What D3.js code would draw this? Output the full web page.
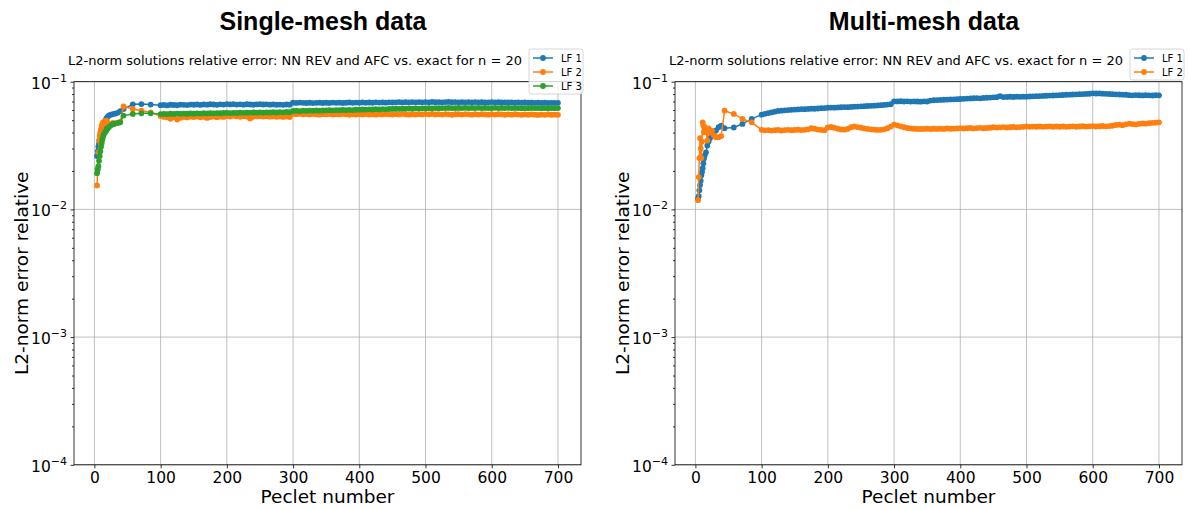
<!DOCTYPE html>
<html lang="en">
<head>
<meta charset="UTF-8">
<title>L2-norm error vs Peclet</title>
<script src="https://cdn.jsdelivr.net/npm/d3@7"></script>
<style>
  body { margin: 0; background: #fff; }
  text { font-family: "DejaVu Sans", sans-serif; fill: #000; }
</style>
</head>
<body>
<svg width="1190" height="510"></svg>
<script>

    // Peclet numbers (same for every series)
    var peclet = [4,5,6,7,8,9,10,11,12,13,14,16,18,20,22,25,28,31,35,39,44,58,71,85,
        100,105,110,115,120,125,130,135,140,145,
        150,155,160,165,170,175,180,185,190,195,
        200,205,210,215,220,225,230,235,240,245,
        250,255,260,265,270,275,280,285,290,295,
        300,305,310,315,320,325,330,335,340,345,
        350,355,360,365,370,375,380,385,390,395,
        400,405,410,415,420,425,430,435,440,445,
        450,455,460,465,470,475,480,485,490,495,
        500,505,510,515,520,525,530,535,540,545,
        550,555,560,565,570,575,580,585,590,595,
        600,605,610,615,620,625,630,635,640,645,
        650,655,660,665,670,675,680,685,690,695,
        700];

    // single-mesh data
    var singleLF1 = [0.0262,0.0285,0.0310,0.0326,0.0345,0.0362,0.0380,0.0398,0.0420,0.0440,0.0462,0.0492,0.0515,0.0530,0.0545,0.0552,0.0558,0.0562,0.0570,0.0588,0.0610,0.0665,0.0668,0.0662,
        0.0655,0.0658,0.0652,0.0660,0.0657,0.0654,0.0661,0.0659,0.0656,0.0662,
        0.0660,0.0663,0.0658,0.0664,0.0661,0.0666,0.0663,0.0659,0.0665,0.0662,
        0.0668,0.0664,0.0667,0.0662,0.0665,0.0661,0.0666,0.0663,0.0660,0.0664,
        0.0667,0.0663,0.0665,0.0661,0.0664,0.0660,0.0662,0.0659,0.0663,0.0661,
        0.0685,0.0682,0.0686,0.0683,0.0681,0.0684,0.0680,0.0683,0.0685,0.0681,
        0.0684,0.0682,0.0686,0.0683,0.0685,0.0681,0.0684,0.0687,0.0683,0.0686,
        0.0684,0.0688,0.0685,0.0687,0.0684,0.0689,0.0686,0.0688,0.0685,0.0690,
        0.0687,0.0689,0.0692,0.0688,0.0691,0.0689,0.0693,0.0690,0.0692,0.0689,
        0.0693,0.0690,0.0694,0.0691,0.0693,0.0690,0.0692,0.0694,0.0691,0.0693,
        0.0690,0.0692,0.0689,0.0693,0.0690,0.0692,0.0689,0.0691,0.0688,0.0690,
        0.0692,0.0689,0.0691,0.0688,0.0690,0.0687,0.0689,0.0686,0.0688,0.0685,
        0.0687,0.0684,0.0686,0.0683,0.0685,0.0682,0.0684,0.0681,0.0683,0.0682,
        0.0683];
    var singleLF2 = [0.0154,0.0208,0.0280,0.0346,0.0379,0.0402,0.0425,0.0450,0.0467,0.0481,0.0470,0.0488,0.0496,0.0478,0.0470,0.0462,0.0475,0.0470,0.0478,0.0485,0.0640,0.0611,0.0593,0.0576,
        0.0538,0.0530,0.0526,0.0512,0.0528,0.0505,0.0522,0.0530,0.0525,0.0532,
        0.0528,0.0534,0.0526,0.0531,0.0520,0.0529,0.0535,0.0527,0.0532,0.0530,
        0.0538,0.0534,0.0540,0.0536,0.0531,0.0537,0.0533,0.0516,0.0530,0.0535,
        0.0538,0.0534,0.0537,0.0532,0.0536,0.0531,0.0535,0.0530,0.0533,0.0529,
        0.0560,0.0557,0.0561,0.0555,0.0558,0.0554,0.0559,0.0556,0.0552,0.0557,
        0.0555,0.0558,0.0553,0.0557,0.0554,0.0559,0.0555,0.0551,0.0556,0.0553,
        0.0557,0.0554,0.0558,0.0553,0.0556,0.0552,0.0557,0.0554,0.0558,0.0555,
        0.0553,0.0557,0.0554,0.0559,0.0555,0.0552,0.0556,0.0553,0.0557,0.0554,
        0.0558,0.0555,0.0559,0.0554,0.0557,0.0553,0.0558,0.0555,0.0551,0.0556,
        0.0557,0.0553,0.0558,0.0555,0.0552,0.0556,0.0553,0.0557,0.0554,0.0552,
        0.0556,0.0553,0.0557,0.0554,0.0551,0.0555,0.0552,0.0556,0.0553,0.0550,
        0.0554,0.0551,0.0555,0.0552,0.0549,0.0553,0.0550,0.0554,0.0551,0.0552,
        0.0550];
    var singleLF3 = [0.0192,0.0205,0.0218,0.0240,0.0262,0.0285,0.0310,0.0330,0.0352,0.0370,0.0385,0.0400,0.0415,0.0430,0.0442,0.0455,0.0465,0.0470,0.0474,0.0481,0.0543,0.0559,0.0565,0.0565,
        0.0558,0.0560,0.0557,0.0561,0.0559,0.0562,0.0560,0.0563,0.0561,0.0564,
        0.0562,0.0565,0.0563,0.0566,0.0564,0.0567,0.0565,0.0568,0.0566,0.0569,
        0.0570,0.0568,0.0571,0.0569,0.0572,0.0570,0.0573,0.0571,0.0574,0.0572,
        0.0575,0.0573,0.0576,0.0574,0.0577,0.0575,0.0578,0.0576,0.0579,0.0577,
        0.0590,0.0592,0.0589,0.0593,0.0591,0.0594,0.0592,0.0595,0.0593,0.0596,
        0.0596,0.0598,0.0597,0.0600,0.0598,0.0601,0.0599,0.0602,0.0600,0.0603,
        0.0604,0.0606,0.0605,0.0608,0.0606,0.0609,0.0607,0.0610,0.0608,0.0611,
        0.0612,0.0614,0.0613,0.0616,0.0614,0.0617,0.0615,0.0618,0.0616,0.0619,
        0.0618,0.0620,0.0619,0.0621,0.0620,0.0622,0.0621,0.0623,0.0622,0.0621,
        0.0623,0.0621,0.0624,0.0622,0.0623,0.0621,0.0624,0.0622,0.0623,0.0621,
        0.0622,0.0624,0.0621,0.0623,0.0622,0.0624,0.0621,0.0623,0.0622,0.0620,
        0.0622,0.0620,0.0623,0.0621,0.0622,0.0620,0.0621,0.0619,0.0621,0.0620,
        0.0621];

    // multi-mesh data
    var multiLF1 = [0.0122,0.0127,0.0141,0.0155,0.0168,0.0185,0.0196,0.0210,0.0230,0.0250,0.0264,0.0280,0.0316,0.0340,0.0360,0.0379,0.0402,0.0415,0.0440,0.0452,0.0432,0.0438,0.0467,0.0511,
        0.0552,0.0560,0.0568,0.0575,0.0582,0.0590,0.0593,0.0597,0.0600,0.0602,
        0.0605,0.0607,0.0610,0.0609,0.0612,0.0615,0.0614,0.0617,0.0620,0.0622,
        0.0625,0.0627,0.0626,0.0629,0.0631,0.0633,0.0632,0.0635,0.0637,0.0639,
        0.0641,0.0643,0.0645,0.0647,0.0649,0.0652,0.0655,0.0658,0.0662,0.0666,
        0.0702,0.0701,0.0703,0.0700,0.0702,0.0699,0.0701,0.0700,0.0698,0.0702,
        0.0700,0.0712,0.0716,0.0718,0.0720,0.0722,0.0724,0.0726,0.0728,0.0730,
        0.0732,0.0735,0.0738,0.0740,0.0742,0.0744,0.0741,0.0746,0.0749,0.0751,
        0.0754,0.0756,0.0772,0.0758,0.0760,0.0762,0.0759,0.0763,0.0761,0.0764,
        0.0764,0.0766,0.0768,0.0770,0.0772,0.0774,0.0776,0.0778,0.0780,0.0782,
        0.0785,0.0787,0.0790,0.0792,0.0794,0.0796,0.0798,0.0800,0.0802,0.0805,
        0.0811,0.0808,0.0810,0.0806,0.0804,0.0801,0.0799,0.0796,0.0794,0.0792,
        0.0790,0.0784,0.0782,0.0786,0.0783,0.0781,0.0784,0.0782,0.0780,0.0783,
        0.0782];
    var multiLF2 = [0.0118,0.0179,0.0253,0.0361,0.0300,0.0253,0.0340,0.0481,0.0453,0.0402,0.0440,0.0414,0.0346,0.0430,0.0400,0.0414,0.0380,0.0368,0.0368,0.0375,0.0593,0.0559,0.0511,0.0481,
        0.0420,0.0416,0.0418,0.0414,0.0417,0.0419,0.0415,0.0418,0.0420,0.0417,
        0.0419,0.0421,0.0418,0.0420,0.0424,0.0432,0.0428,0.0422,0.0419,0.0417,
        0.0438,0.0442,0.0436,0.0428,0.0423,0.0421,0.0427,0.0440,0.0446,0.0441,
        0.0436,0.0431,0.0427,0.0424,0.0421,0.0419,0.0420,0.0424,0.0432,0.0445,
        0.0462,0.0455,0.0447,0.0440,0.0434,0.0430,0.0428,0.0427,0.0426,0.0427,
        0.0428,0.0426,0.0428,0.0427,0.0429,0.0427,0.0430,0.0428,0.0429,0.0431,
        0.0433,0.0430,0.0432,0.0434,0.0431,0.0433,0.0435,0.0432,0.0434,0.0436,
        0.0440,0.0437,0.0439,0.0441,0.0438,0.0440,0.0442,0.0439,0.0441,0.0443,
        0.0446,0.0443,0.0445,0.0444,0.0446,0.0443,0.0445,0.0447,0.0444,0.0446,
        0.0444,0.0446,0.0443,0.0445,0.0447,0.0444,0.0446,0.0448,0.0445,0.0447,
        0.0449,0.0446,0.0448,0.0450,0.0447,0.0449,0.0452,0.0458,0.0461,0.0457,
        0.0464,0.0469,0.0466,0.0463,0.0468,0.0471,0.0469,0.0473,0.0476,0.0478,
        0.0481];

    var xTickValues = [0,100,200,300,400,500,600,700];
    var yTickValues = [1e-4,1e-3,1e-2,1e-1];
    var yTickExp = ["\u22124","\u22123","\u22122","\u22121"];
    var colors = ["#1f77b4","#ff7f0e","#2ca02c"];
    var subtitle = "L2-norm solutions relative error: NN REV and AFC vs. exact for n = 20";

    var svg = d3.select("svg");

    var axW = 507, axTop = 81.7, axBottom = 464.8;

    drawPanel(74, "Single-mesh data", [singleLF1, singleLF2, singleLF3], ["LF 1","LF 2","LF 3"]);
    drawPanel(675, "Multi-mesh data", [multiLF1, multiLF2], ["LF 1","LF 2"]);

    function drawPanel(x0, title, series, names) {
        var g = svg.append("g");

        var x = d3.scaleLinear().domain([-30.8, 734.8]).range([x0, x0 + axW]);
        var y = d3.scaleLog().domain([1e-4, 1e-1]).range([axBottom, axTop]);

        // grid
        g.append("g").selectAll("line.gx")
            .data(xTickValues).enter().append("line")
            .attr("x1", function(d) { return x(d); })
            .attr("x2", function(d) { return x(d); })
            .attr("y1", axTop).attr("y2", axBottom)
            .attr("stroke", "#b0b0b0").attr("stroke-width", 0.8);
        g.append("g").selectAll("line.gy")
            .data(yTickValues).enter().append("line")
            .attr("x1", x0).attr("x2", x0 + axW)
            .attr("y1", function(d) { return y(d); })
            .attr("y2", function(d) { return y(d); })
            .attr("stroke", "#b0b0b0").attr("stroke-width", 0.8);

        // x axis
        var xAxis = g.append("g")
            .attr("transform", "translate(0," + axBottom + ")")
            .call(d3.axisBottom(x).tickValues(xTickValues).tickSize(3.5).tickPadding(3.5));
        xAxis.select(".domain").remove();
        xAxis.selectAll("text").attr("font-size", 15.5).attr("font-family", "DejaVu Sans").attr("fill", "#000");

        // y axis major + minor ticks
        var yAxis = g.append("g")
            .attr("transform", "translate(" + x0 + ",0)")
            .call(d3.axisLeft(y).tickValues(yTickValues).tickSize(3.5).tickFormat(function() { return ""; }));
        yAxis.select(".domain").remove();
        var minors = y.ticks().filter(function(d) {
            return yTickValues.indexOf(d) < 0 && Math.abs(Math.log10(d) - Math.round(Math.log10(d))) > 1e-6;
        });
        var yMinor = g.append("g")
            .attr("transform", "translate(" + x0 + ",0)")
            .call(d3.axisLeft(y).tickValues(minors).tickSize(2).tickFormat(function() { return ""; }));
        yMinor.select(".domain").remove();
        g.selectAll(".tick line").attr("stroke", "#000").attr("stroke-width", 0.8);

        // y tick labels as 10^k
        var labels = g.append("g").selectAll("text")
            .data(yTickValues).enter().append("text")
            .attr("x", x0 - 7)
            .attr("y", function(d) { return y(d) + 7; })
            .attr("text-anchor", "end")
            .attr("font-size", 15.5);
        labels.append("tspan").text("10");
        labels.append("tspan")
            .attr("dy", -7)
            .attr("font-size", 11)
            .text(function(d, i) { return yTickExp[i]; });

        // spines
        g.append("rect")
            .attr("x", x0).attr("y", axTop)
            .attr("width", axW).attr("height", axBottom - axTop)
            .attr("fill", "none").attr("stroke", "#000").attr("stroke-width", 0.8);

        // series
        var line = d3.line()
            .x(function(d) { return x(d[0]); })
            .y(function(d) { return y(d[1]); });

        series.forEach(function(vals, i) {
            var pts = peclet.map(function(p, k) { return [p, vals[k]]; });
            var s = g.append("g");
            s.append("path")
                .datum(pts)
                .attr("d", line)
                .attr("fill", "none")
                .attr("stroke", colors[i])
                .attr("stroke-width", 1.5);
            s.selectAll("circle")
                .data(pts).enter().append("circle")
                .attr("cx", function(d) { return x(d[0]); })
                .attr("cy", function(d) { return y(d[1]); })
                .attr("r", 2.9)
                .attr("fill", colors[i]);
        });

        // titles
        svg.append("text")
            .attr("x", x0 + 249)
            .attr("y", 30)
            .attr("text-anchor", "middle")
            .style("font-family", "'Liberation Sans', Arial, sans-serif")
            .attr("font-weight", "bold")
            .attr("font-size", 25)
            .text(title);
        svg.append("text")
            .attr("x", x0 + 221)
            .attr("y", 65)
            .attr("text-anchor", "middle")
            .attr("font-size", 13)
            .text(subtitle);

        // axis labels
        svg.append("text")
            .attr("x", x0 + axW / 2)
            .attr("y", 503)
            .attr("text-anchor", "middle")
            .attr("font-size", 18.5)
            .text("Peclet number");
        svg.append("text")
            .attr("transform", "translate(" + (x0 - 46) + "," + ((axTop + axBottom) / 2) + ") rotate(-90)")
            .attr("text-anchor", "middle")
            .attr("font-size", 18.5)
            .text("L2-norm error relative");

        // legend
        var lx = x0 + axW - 52, ly = 49;
        var leg = svg.append("g");
        leg.append("rect")
            .attr("x", lx).attr("y", ly)
            .attr("width", 54).attr("height", 14 * names.length + 3)
            .attr("rx", 2.5)
            .attr("fill", "#fff").attr("fill-opacity", 0.8)
            .attr("stroke", "#ccc").attr("stroke-width", 0.8);
        names.forEach(function(n, i) {
            var yy = ly + 9 + i * 14;
            leg.append("line")
                .attr("x1", lx + 4).attr("x2", lx + 24)
                .attr("y1", yy).attr("y2", yy)
                .attr("stroke", colors[i]).attr("stroke-width", 1.5);
            leg.append("circle")
                .attr("cx", lx + 14).attr("cy", yy).attr("r", 2.9)
                .attr("fill", colors[i]);
            leg.append("text")
                .attr("x", lx + 32).attr("y", yy + 3.6)
                .attr("font-size", 10)
                .text(n);
        });
    }

</script>
</body>
</html>
